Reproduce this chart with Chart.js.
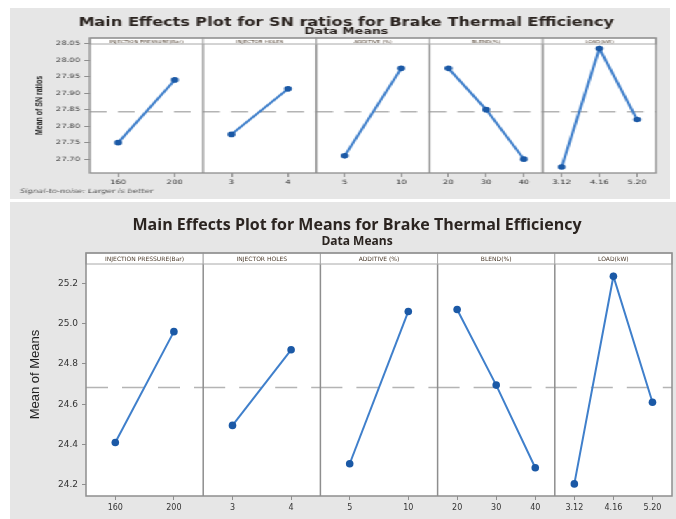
<!DOCTYPE html>
<html lang="en">
<head>
<meta charset="UTF-8">
<title>Main Effects Plots - Brake Thermal Efficiency</title>
<script src="https://cdn.jsdelivr.net/npm/chart.js@4.4.1/dist/chart.umd.min.js"></script>
<style>
    html, body { margin: 0; padding: 0; background: #fff; overflow: hidden; }
    .box { position: absolute; background: #e6e6e6; }
    /* the upper plot is a horizontally stretched copy in the original */
    #topBox { left: 10px; top: 8px; width: 471px; height: 191px; transform: scaleX(1.4013); transform-origin: 0 0; }
    #botBox { left: 10px; top: 202px; width: 666px; height: 317px; }
</style>
</head>
<body>

<div class="box" id="topBox"><canvas id="snChart"></canvas></div>
<div class="box" id="botBox"><canvas id="meanChart"></canvas></div>

<script>
// factors and their levels (tick labels under each panel)
const factors = ['INJECTION PRESSURE(Bar)', 'INJECTOR HOLES', 'ADDITIVE (%)', 'BLEND(%)', 'LOAD(kW)'];
const levels = [['160', '200'], ['3', '4'], ['5', '10'], ['20', '30', '40'], ['3.12', '4.16', '5.20']];

// main effects
const snRatios = [[27.750, 27.940], [27.775, 27.913], [27.710, 27.975], [27.975, 27.850, 27.700], [27.676, 28.035, 27.820]];
const means = [[24.410, 24.960], [24.495, 24.870], [24.305, 25.060], [25.070, 24.695, 24.285], [24.205, 25.235, 24.610]];

// y tick labels
const snTicks = [27.70, 27.75, 27.80, 27.85, 27.90, 27.95, 28.00, 28.05];
const meanTicks = [24.2, 24.4, 24.6, 24.8, 25.0, 25.2];

const lineColor = '#3f7fcb';
const markColor = '#1b59a6';
const frameColor = '#8e8e8e';

// x position of level k in panel i (levels sit at centres of equal slots)
function levelPos(i, k) {
    return i + (k + 0.5) / levels[i].length;
}

const tickPositions = [];
const tickLabels = [];
levels.forEach((lv, i) => lv.forEach((l, k) => {
    tickPositions.push(levelPos(i, k));
    tickLabels.push(l);
}));

function grandMean(vals) {
    const all = vals.flat();
    return all.reduce((a, b) => a + b, 0) / all.length;
}

// white plot area, panel separators, strip headers, frame, footer
const panelPlugin = {
    id: 'panels',
    beforeDatasetsDraw(chart) {
        const {ctx, chartArea: a} = chart;
        ctx.save();
        ctx.fillStyle = '#fff';
        ctx.fillRect(a.left, a.top, a.width, a.height);
        ctx.restore();
    },
    afterDatasetsDraw(chart, args, opts) {
        const {ctx, chartArea: a} = chart;
        const x = chart.scales.x;
        ctx.save();
        ctx.strokeStyle = frameColor;
        ctx.lineWidth = opts.sepWidth;
        for (let i = 1; i < factors.length; i++) {
            const px = x.getPixelForValue(i);
            ctx.beginPath();
            ctx.moveTo(px, a.top);
            ctx.lineTo(px, a.bottom);
            ctx.stroke();
        }
        ctx.lineWidth = 1;
        ctx.font = opts.stripFont;
        ctx.textAlign = 'center';
        ctx.textBaseline = 'middle';
        for (let i = 0; i < factors.length; i++) {
            const x0 = x.getPixelForValue(i);
            const x1 = x.getPixelForValue(i + 1);
            ctx.fillStyle = '#fff';
            ctx.fillRect(x0, a.top, x1 - x0, opts.stripHeight);
            ctx.strokeStyle = '#a8a8a8';
            ctx.strokeRect(x0, a.top, x1 - x0, opts.stripHeight);
            ctx.fillStyle = '#4a3a2a';
            ctx.fillText(factors[i], (x0 + x1) / 2, a.top + opts.stripHeight / 2 + 0.5);
        }
        ctx.strokeStyle = frameColor;
        ctx.lineWidth = opts.sepWidth;
        ctx.strokeRect(a.left, a.top, a.width, a.height);
        if (opts.footer) {
            ctx.font = 'italic 6px "DejaVu Sans", sans-serif';
            ctx.fillStyle = '#555';
            ctx.textAlign = 'left';
            ctx.fillText(opts.footer, opts.footerX, opts.footerY);
        }
        ctx.restore();
    }
};

function makeChart(id, c) {
    const datasets = [];
    c.values.forEach((vals, i) => {
        datasets.push({
            data: vals.map((v, k) => ({x: levelPos(i, k), y: v})),
            borderColor: lineColor,
            borderWidth: 2,
            pointRadius: c.pointRadius,
            pointBackgroundColor: markColor,
            pointBorderColor: markColor,
            pointBorderWidth: 0
        });
    });
    const m = grandMean(c.values);
    c.values.forEach((vals, i) => {
        datasets.push({
            data: [{x: i, y: m}, {x: i + 1, y: m}],
            borderColor: '#b4b4b4',
            borderWidth: 1.5,
            borderDash: c.dash,
            pointRadius: 0
        });
    });

    return new Chart(document.getElementById(id), {
        type: 'line',
        data: {datasets},
        plugins: [panelPlugin],
        options: {
            responsive: true,
            maintainAspectRatio: false,
            animation: false,
            layout: {padding: c.padding},
            scales: {
                x: {
                    type: 'linear',
                    min: 0,
                    max: factors.length,
                    afterBuildTicks: s => { s.ticks = tickPositions.map(v => ({value: v})); },
                    afterFit: s => { s.height = 14; },
                    grid: {drawOnChartArea: false, tickLength: 4, color: frameColor},
                    border: {display: false},
                    ticks: {
                        autoSkip: false,
                        maxRotation: 0,
                        padding: c.xTickPad,
                        color: '#333',
                        font: {family: '"DejaVu Sans", sans-serif', size: c.xTickSize},
                        callback: (v, idx) => tickLabels[idx]
                    }
                },
                y: {
                    min: c.yMin,
                    max: c.yMax,
                    afterBuildTicks: s => { s.ticks = c.yTicks.map(v => ({value: v})); },
                    afterFit: s => { s.width = c.yWidth; },
                    grid: {drawOnChartArea: false, tickLength: 4, color: frameColor},
                    border: {display: false},
                    ticks: {
                        padding: c.yTickPad,
                        color: '#333',
                        font: {family: '"DejaVu Sans", sans-serif', size: c.yTickSize},
                        callback: v => v.toFixed(c.decimals)
                    },
                    title: {
                        display: true,
                        text: c.yTitle,
                        color: '#222',
                        padding: {top: c.yTitlePad, bottom: 0},
                        font: {family: '"Liberation Sans Narrow", "Liberation Sans", sans-serif', size: c.yTitleSize, weight: c.yTitleWeight, lineHeight: 1}
                    }
                }
            },
            plugins: {
                legend: {display: false},
                tooltip: {enabled: false},
                title: {
                    display: true,
                    text: c.title,
                    color: '#2b2420',
                    padding: {top: c.titlePad, bottom: 0},
                    font: {family: c.titleFamily, size: c.titleSize, weight: 'bold', lineHeight: 1}
                },
                subtitle: {
                    display: true,
                    text: 'Data Means',
                    color: '#2b2420',
                    padding: {top: c.subTop, bottom: c.subPad},
                    font: {family: c.titleFamily, size: c.subSize, weight: 'bold', lineHeight: 1}
                },
                panels: c.panels
            }
        }
    });
}

makeChart('snChart', {
    values: snRatios,
    yTicks: snTicks,
    yMin: 27.658,
    yMax: 28.067,
    decimals: 2,
    yTitle: 'Mean of SN ratios',
    yTitleSize: 7,
    yTitleWeight: 'bold',
    yTitlePad: -1.5,
    yWidth: 38,
    yTickSize: 6,
    yTickPad: 3,
    xTickSize: 6,
    xTickPad: 2,
    pointRadius: 2.8,
    dash: [12, 8],
    padding: {left: 19, right: 10, top: 0, bottom: 12},
    title: 'Main Effects Plot for SN ratios for Brake Thermal Efficiency',
    titleFamily: '"DejaVu Sans", sans-serif',
    titleSize: 11.5,
    titlePad: 9,
    subSize: 9,
    subTop: -1,
    subPad: 1.5,
    panels: {sepWidth: 1.3, stripHeight: 6, stripFont: '4px "DejaVu Sans", sans-serif',
             footer: 'Signal-to-noise: Larger is better', footerX: 7, footerY: 183}
});

makeChart('meanChart', {
    values: means,
    yTicks: meanTicks,
    yMin: 24.145,
    yMax: 25.35,
    decimals: 1,
    yTitle: 'Mean of Means',
    yTitleSize: 13,
    yTitleWeight: 'normal',
    yTitlePad: -11.5,
    yWidth: 46,
    yTickSize: 9,
    yTickPad: 4,
    xTickSize: 8,
    xTickPad: 3,
    pointRadius: 3.8,
    dash: [22, 14],
    padding: {left: 30, right: 2, top: 0, bottom: 9},
    title: 'Main Effects Plot for Means for Brake Thermal Efficiency',
    titleFamily: '"Open Sans", sans-serif',
    titleSize: 16,
    titlePad: 15,
    subSize: 12,
    subTop: 3,
    subPad: 5,
    panels: {sepWidth: 1.5, stripHeight: 11, stripFont: '6px "DejaVu Sans", sans-serif'}
});
</script>

</body>
</html>
